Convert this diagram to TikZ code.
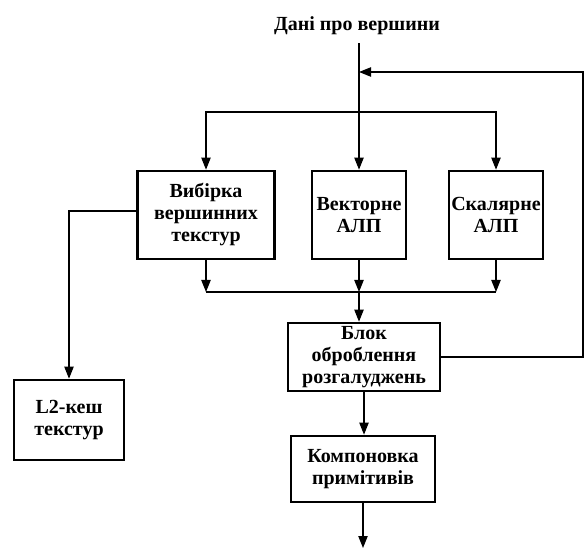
\documentclass[tikz,border=0pt]{standalone}
\usepackage{fontspec}
\setmainfont{Liberation Serif}
\usetikzlibrary{arrows.meta}

\begin{document}
\begin{tikzpicture}[x=0.75pt,y=-0.75pt,
  block node/.style={draw,line width=2pt,align=center,inner sep=1pt,
    font=\fontsize{15}{16.5}\selectfont\bfseries},
  link/.style={line width=0.9pt,-{Triangle[length=9pt,width=7pt]}}]

\useasboundingbox (0,0) rectangle (584,548);

\node at (357,26) [inner sep=6pt,font=\fontsize{15}{16.5}\selectfont\bfseries] (top) {Дані про вершини};

\node at (206,215) [block node,minimum width=102.75pt,minimum height=66pt] (vyb) {Вибірка\\вершинних\\текстур};
\node at (359,215) [block node,minimum width=70.5pt,minimum height=66pt] (vec) {Векторне\\АЛП};
\node at (496,215) [block node,minimum width=70.5pt,minimum height=66pt] (sca) {Скалярне\\АЛП};
\node at (364,357) [block node,minimum width=114pt,minimum height=51pt] (blok) {Блок\\оброблення\\розгалуджень};
\node at (363,469) [block node,minimum width=108pt,minimum height=49.5pt] (komp) {Компоновка\\примітивів};
\node at (69,420) [block node,minimum width=82.5pt,minimum height=60pt] (l2) {L2-кеш\\текстур};

\coordinate (split) at (359,112);
\coordinate (merge) at (359,292);
\coordinate (fb) at (583,72);
\coordinate (out) at (363,548);

\draw[link] (vec.north |- top.south) -- (vec.north);
\draw[link] (split) -| (vyb.north);
\draw[link] (split) -| (sca.north);

\draw[link] (vyb.south) -- (vyb.south |- merge);
\draw[link] (vec.south) -- (merge);
\draw[link] (sca.south) -- (sca.south |- merge);
\draw[line width=0.9pt] (vyb.south |- merge) -- (sca.south |- merge);
\draw[link] (merge) -- (merge |- blok.north);

\draw[link] (blok.east) -| (fb) -- (fb -| vec.north);
\draw[link] (blok.south) -- (blok.south |- komp.north);
\draw[link] (komp.south) -- (out);

\draw[link] ([yshift=3pt]vyb.west) -| (l2.north);

\end{tikzpicture}
\end{document}
